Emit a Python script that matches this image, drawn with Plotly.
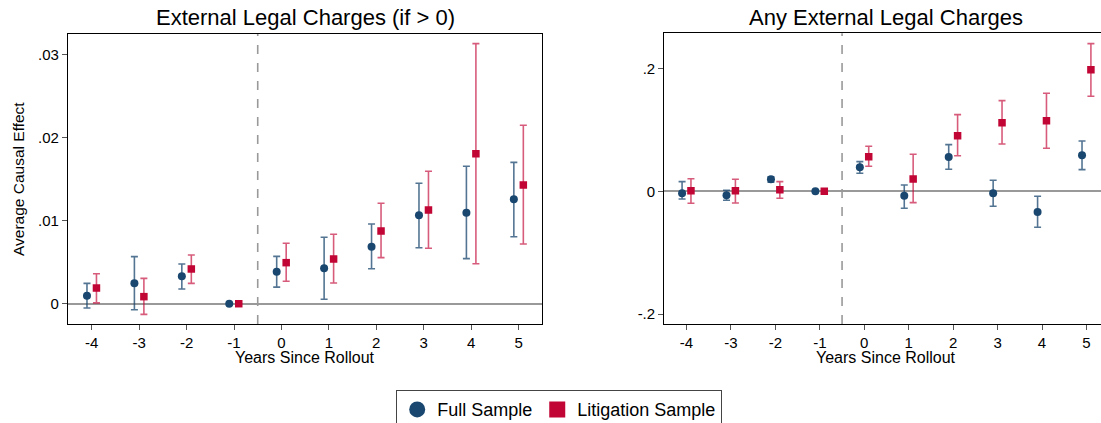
import plotly.graph_objects as go

years = [-4, -3, -2, -1, 0, 1, 2, 3, 4, 5]

# Panel 1: External Legal Charges (if > 0)
p1_full_coef = [0.00096, 0.00245, 0.0033, 0.0, 0.00385, 0.00426, 0.00686, 0.01063, 0.01095, 0.01256]
p1_full_lo   = [-0.00052, -0.00072, 0.00177, None, 0.0020, 0.00053, 0.0042, 0.00674, 0.00542, 0.00806]
p1_full_hi   = [0.00245, 0.00566, 0.00478, None, 0.0057, 0.0080, 0.0096, 0.01449, 0.01653, 0.0170]
p1_lit_coef  = [0.00189, 0.00085, 0.00418, 0.0, 0.00494, 0.00538, 0.00875, 0.01128, 0.01805, 0.01428]
p1_lit_lo    = [0.0001, -0.00128, 0.00245, None, 0.0027, 0.00249, 0.00554, 0.00667, 0.00481, 0.00718]
p1_lit_hi    = [0.00361, 0.00305, 0.00586, None, 0.00727, 0.00835, 0.01208, 0.01593, 0.03129, 0.02147]

# Panel 2: Any External Legal Charges
p2_full_coef = [-0.0033, -0.0065, 0.0196, 0.0, 0.0391, -0.0071, 0.0559, -0.0033, -0.0337, 0.0587]
p2_full_lo   = [-0.0126, -0.0147, 0.0147, None, 0.0293, -0.0277, 0.0358, -0.0245, -0.0587, 0.0353]
p2_full_hi   = [0.0157, 0.0016, 0.0238, None, 0.0483, 0.0103, 0.0760, 0.0179, -0.0082, 0.0820]
p2_lit_coef  = [0.0010, 0.0010, 0.0027, 0.0, 0.0564, 0.0200, 0.0906, 0.1118, 0.1151, 0.1982]
p2_lit_lo    = [-0.0196, -0.0190, -0.0114, None, 0.0407, -0.0185, 0.0580, 0.0771, 0.0701, 0.1549]
p2_lit_hi    = [0.0205, 0.0196, 0.0157, None, 0.0733, 0.0603, 0.1249, 0.1477, 0.1597, 0.2406]

p1_yticks = [0, 0.01, 0.02, 0.03]
p1_yticklabels = ["0", ".01", ".02", ".03"]
p2_yticks = [-0.2, 0, 0.2]
p2_yticklabels = ["-.2", "0", ".2"]
xticklabels = [str(y) for y in years]

NAVY = "#1a476f"
RED = "#c10534"
NAVY_BAR = "rgba(26,71,111,0.75)"
RED_BAR = "rgba(193,5,52,0.65)"
FONT = "Liberation Sans, Arial, sans-serif"


def errs(coef, lo, hi):
    plus = [None if h is None else h - c for c, h in zip(coef, hi)]
    minus = [None if l is None else c - l for c, l in zip(coef, lo)]
    return plus, minus


fig = go.Figure()

panels = [
    ("x", "y", p1_full_coef, p1_full_lo, p1_full_hi, p1_lit_coef, p1_lit_lo, p1_lit_hi),
    ("x2", "y2", p2_full_coef, p2_full_lo, p2_full_hi, p2_lit_coef, p2_lit_lo, p2_lit_hi),
]
for xa, ya, fc, fl, fh, lc, ll, lh in panels:
    fp, fm = errs(fc, fl, fh)
    lp, lm = errs(lc, ll, lh)
    fig.add_trace(go.Scatter(
        x=[y - 0.1 for y in years], y=fc, mode="markers", xaxis=xa, yaxis=ya,
        marker=dict(symbol="circle", size=8, color=NAVY),
        error_y=dict(type="data", array=fp, arrayminus=fm, color=NAVY_BAR, thickness=1.6, width=3.5),
        showlegend=False, hoverinfo="skip"))
    fig.add_trace(go.Scatter(
        x=[y + 0.1 for y in years], y=lc, mode="markers", xaxis=xa, yaxis=ya,
        marker=dict(symbol="square", size=7.5, color=RED),
        error_y=dict(type="data", array=lp, arrayminus=lm, color=RED_BAR, thickness=1.6, width=3.5),
        showlegend=False, hoverinfo="skip"))

# legend-only traces
fig.add_trace(go.Scatter(x=[None], y=[None], mode="markers", name="Full Sample",
                         marker=dict(symbol="circle", size=16, color=NAVY)))
fig.add_trace(go.Scatter(x=[None], y=[None], mode="markers", name="Litigation Sample",
                         marker=dict(symbol="square", size=16, color=RED)))

axis_common = dict(showgrid=False, showline=True, linecolor="black", linewidth=1.3,
                   ticks="outside", ticklen=5, tickcolor="#555555", tickwidth=1.2,
                   tickfont=dict(family=FONT, size=15, color="black"))

fig.update_layout(
    width=1101, height=423,
    margin=dict(l=0, r=0, t=0, b=0, autoexpand=False),
    paper_bgcolor="white", plot_bgcolor="white",
    font=dict(family=FONT, color="black"),
    xaxis=dict(domain=[68 / 1101, 542.3 / 1101], range=[-4.5, 5.5], tickvals=years,
               ticktext=xticklabels, zeroline=False, mirror=True, anchor="y", **axis_common),
    yaxis=dict(domain=[1 - 324 / 423, 1 - 34 / 423], range=[-0.00244, 0.03245],
               tickvals=p1_yticks, ticktext=p1_yticklabels, zeroline=True,
               zerolinecolor="#999999", zerolinewidth=1.6, mirror=True, anchor="x", **axis_common),
    xaxis2=dict(domain=[664.3 / 1101, 1.0], range=[-4.5, 5.327], tickvals=years,
                ticktext=xticklabels, zeroline=False, mirror=True, anchor="y2", **axis_common),
    yaxis2=dict(domain=[1 - 324 / 423, 1 - 33.3 / 423], range=[-0.2163, 0.2575],
                tickvals=p2_yticks, ticktext=p2_yticklabels, zeroline=True,
                zerolinecolor="#999999", zerolinewidth=1.6, mirror=False, anchor="x2", **axis_common),
    legend=dict(orientation="h", x=559 / 1101, xanchor="center", y=1 - 390 / 423, yanchor="top",
                bordercolor="#444444", borderwidth=1.2, bgcolor="white",
                font=dict(family=FONT, size=18, color="black"), itemsizing="trace"),
    shapes=[
        dict(type="line", xref="x", yref="y domain", x0=-0.5, x1=-0.5, y0=0, y1=1,
             line=dict(color="#999999", width=1.6, dash="dash"), layer="below"),
        dict(type="line", xref="x2", yref="y2 domain", x0=-0.5, x1=-0.5, y0=0, y1=1,
             line=dict(color="#999999", width=1.6, dash="dash"), layer="below"),
    ],
    annotations=[
        dict(text="External Legal Charges (if > 0)", x=305 / 1101, y=1 - 18 / 423, xref="paper",
             yref="paper", xanchor="center", yanchor="middle", showarrow=False,
             font=dict(family=FONT, size=22, color="black")),
        dict(text="Any External Legal Charges", x=886 / 1101, y=1 - 18 / 423, xref="paper",
             yref="paper", xanchor="center", yanchor="middle", showarrow=False,
             font=dict(family=FONT, size=22, color="black")),
        dict(text="Years Since Rollout", x=305 / 1101, y=1 - 357 / 423, xref="paper",
             yref="paper", xanchor="center", yanchor="middle", showarrow=False,
             font=dict(family=FONT, size=16, color="black")),
        dict(text="Years Since Rollout", x=886 / 1101, y=1 - 357 / 423, xref="paper",
             yref="paper", xanchor="center", yanchor="middle", showarrow=False,
             font=dict(family=FONT, size=16, color="black")),
        dict(text="Average Causal Effect", x=18 / 1101, y=1 - 179 / 423, xref="paper",
             yref="paper", xanchor="center", yanchor="middle", showarrow=False, textangle=-90,
             font=dict(family=FONT, size=15.5, color="black")),
    ],
)

fig.write_html("out.html")
